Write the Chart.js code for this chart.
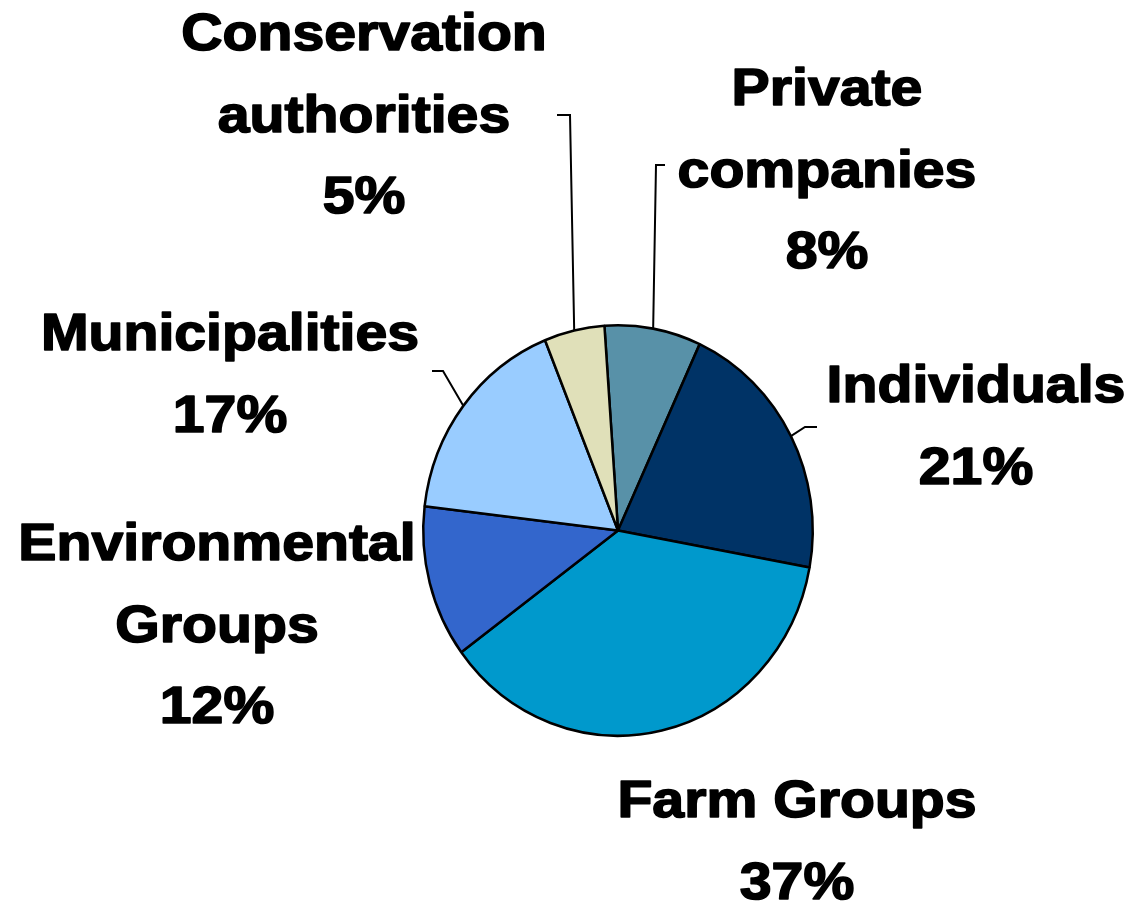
<!DOCTYPE html>
<html>
<head>
<meta charset="utf-8">
<script src="https://cdn.jsdelivr.net/npm/chart.js@4.4.1/dist/chart.umd.min.js"></script>
<style>
    html, body { margin: 0; padding: 0; background: #fff; }
    #wrap { width: 1134px; height: 909px; }
</style>
</head>
<body>
<div id="wrap"><canvas id="pie" width="1134" height="909"></canvas></div>
<script>
// slice order, clockwise from 12 o'clock
const categories = [
    ['Private', 'companies'],
    'Individuals',
    'Farm Groups',
    ['Environmental', 'Groups'],
    'Municipalities',
    ['Conservation', 'authorities'],
];
const shares = [8, 21, 37, 12, 17, 5];
const sliceColors = ['#5891a8', '#003366', '#0099cc', '#3366cc', '#99ccff', '#e0e0b9'];

// where each label block sits (centre x, first baseline) and its leader line, if any
const labelPlacement = [
    { x: 827, y: 105, elbow: [656, 165], tick: [665, 165] },
    { x: 976, y: 402, elbow: [805, 427], tick: [817, 427] },
    { x: 797, y: 817 },
    { x: 217, y: 560 },
    { x: 230, y: 350, elbow: [443, 371], tick: [432, 371] },
    { x: 364, y: 50, elbow: [570, 115], tick: [557, 115] },
];

const stretchY = 1.054;   // the original pie is a touch taller than wide
const lineGap = 81.5;

const ellipsePie = {
    id: 'ellipsePie',
    beforeDatasetsDraw(chart) {
        const arc = chart.getDatasetMeta(0).data[0];
        const ctx = chart.ctx;
        ctx.save();
        ctx.translate(arc.x, arc.y);
        ctx.scale(1, stretchY);
        ctx.translate(-arc.x, -arc.y);
    },
    afterDatasetsDraw(chart) {
        chart.ctx.restore();
    },
};

const outsideLabels = {
    id: 'outsideLabels',
    afterDraw(chart) {
        const ctx = chart.ctx;
        const arcs = chart.getDatasetMeta(0).data;

        ctx.save();
        ctx.strokeStyle = '#000';
        ctx.lineWidth = 2;
        arcs.forEach((arc, i) => {
            const place = labelPlacement[i];
            if (!place.elbow) {
                return;
            }
            const mid = (arc.startAngle + arc.endAngle) / 2;
            const sx = arc.x + Math.cos(mid) * arc.outerRadius;
            const sy = arc.y + Math.sin(mid) * arc.outerRadius * stretchY;
            ctx.beginPath();
            ctx.moveTo(sx, sy);
            ctx.lineTo(place.elbow[0], place.elbow[1]);
            ctx.lineTo(place.tick[0], place.tick[1]);
            ctx.stroke();
        });

        ctx.fillStyle = '#000';
        ctx.lineWidth = 1.6;
        ctx.lineJoin = 'round';
        ctx.font = 'bold 52px "Liberation Sans", Arial, sans-serif';
        ctx.textAlign = 'center';
        ctx.textBaseline = 'alphabetic';
        chart.data.labels.forEach((label, i) => {
            const place = labelPlacement[i];
            const lines = [].concat(label, shares[i] + '%');
            lines.forEach((text, row) => {
                ctx.save();
                ctx.translate(place.x, place.y + row * lineGap);
                ctx.scale(1.1, 1);
                ctx.fillText(text, 0, 0);
                ctx.strokeText(text, 0, 0);
                ctx.restore();
            });
        });
        ctx.restore();
    },
};

new Chart(document.getElementById('pie'), {
    type: 'pie',
    data: {
        labels: categories,
        datasets: [{
            data: shares,
            backgroundColor: sliceColors,
            borderColor: '#000',
            borderWidth: 2.5,
        }],
    },
    options: {
        responsive: false,
        animation: false,
        rotation: -4,
        layout: {
            padding: { left: 422, right: 320, top: 334.5, bottom: 182.5 },
        },
        plugins: {
            legend: { display: false },
            tooltip: { enabled: false },
        },
    },
    plugins: [ellipsePie, outsideLabels],
});
</script>
</body>
</html>
